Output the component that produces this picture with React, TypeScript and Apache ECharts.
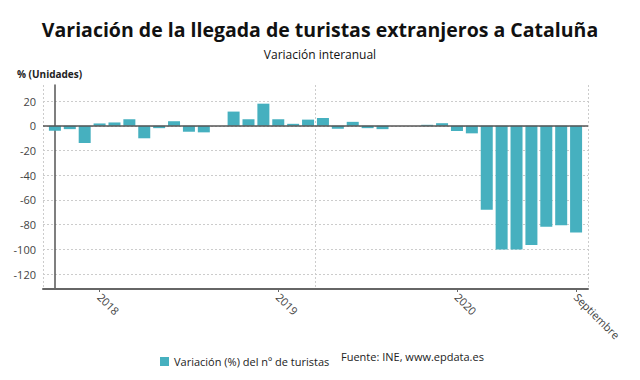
import React, { useEffect, useRef } from "react";
import * as echarts from "echarts";

const months: string[] = [
  "2017-10", "2017-11", "2017-12",
  "2018-01", "2018-02", "2018-03", "2018-04", "2018-05", "2018-06", "2018-07", "2018-08", "2018-09", "2018-10", "2018-11", "2018-12",
  "2019-01", "2019-02", "2019-03", "2019-04", "2019-05", "2019-06", "2019-07", "2019-08", "2019-09", "2019-10", "2019-11", "2019-12",
  "2020-01", "2020-02", "2020-03", "2020-04", "2020-05", "2020-06", "2020-07", "2020-08", "2020-09",
];
const values: number[] = [
  -4, -2.7, -13.9,
  1.9, 2.7, 5.3, -10.1, -1.9, 3.7, -4.8, -5.3, 0, 11.5, 5.3, 17.9,
  5.3, 1.6, 5, 6.3, -2.4, 3.2, -1.9, -2.7, 0, 0, 0.8, 2.1,
  -4.2, -6.1, -68, -100, -100, -96.5, -81.7, -80.4, -86.3,
];
const tickLabels: Record<string, string> = {
  "2018-01": "2018",
  "2019-01": "2019",
  "2020-01": "2020",
  "2020-09": "Septiembre",
};
const seriesName = "Variación (%) del nº de turistas";

export default function App() {
  const ref = useRef<HTMLDivElement>(null);
  useEffect(() => {
    if (!ref.current) return;
    document.body.style.margin = "0";
    const chart = echarts.init(ref.current, null, { renderer: "svg" });
    const labelIdx = months.map((m, i) => (tickLabels[m] ? i : -1)).filter((i) => i >= 0);
    const font = "'Open Sans', sans-serif";
    chart.setOption({
      animation: false,
      textStyle: { fontFamily: font },
      title: [
        {
          text: "Variación de la llegada de turistas extranjeros a Cataluña",
          left: "center",
          top: 14,
          textStyle: { fontFamily: font, fontWeight: "bold", fontSize: 19.5, color: "#111" },
        },
        {
          text: "Variación interanual",
          left: "center",
          top: 43,
          textStyle: { fontFamily: font, fontWeight: "normal", fontSize: 12, color: "#111" },
        },
        {
          text: "% (Unidades)",
          left: 12,
          top: 64,
          textStyle: { fontFamily: font, fontWeight: "bold", fontSize: 10, color: "#222" },
        },
      ],
      legend: {
        left: 155,
        top: 351,
        itemWidth: 9,
        itemHeight: 9,
        itemGap: 6,
        icon: "rect",
        textStyle: { fontFamily: font, fontSize: 11, color: "#222" },
        data: [seriesName],
      },
      graphic: [
        {
          type: "text",
          left: 341,
          top: 351,
          style: { text: "Fuente: INE, www.epdata.es", fontFamily: font, fontSize: 11, fill: "#222" },
        },
      ],
      grid: { left: 43, right: 52, top: 85, bottom: 91 },
      xAxis: [
        {
          type: "value",
          min: -0.8,
          max: 35.8,
          axisLine: { show: true, onZero: false, lineStyle: { color: "#666", width: 2 } },
          axisTick: { show: true, customValues: labelIdx, length: 3, lineStyle: { color: "#666" } },
          axisLabel: {
            customValues: labelIdx,
            rotate: -45,
            fontSize: 11,
            color: "#444",
            fontFamily: font,
            margin: 6,
            formatter: (v: number) => tickLabels[months[Math.round(v)]] || "",
          },
          splitLine: { show: false },
        },
        {
          type: "value",
          min: 0,
          max: 2,
          interval: 1,
          position: "bottom",
          axisLine: { show: false },
          axisTick: { show: false },
          axisLabel: { show: false },
          splitLine: { show: true, lineStyle: { color: "#ccc", type: [2, 2], width: 1 } },
        },
      ],
      yAxis: {
        type: "value",
        min: -132,
        max: 33,
        minInterval: 20,
        maxInterval: 20,
        axisLine: { show: true, lineStyle: { color: "#555", width: 1.5 } },
        axisTick: { show: false },
        axisLabel: { showMinLabel: false, showMaxLabel: false, fontSize: 11, color: "#444", fontFamily: font, margin: 7 },
        splitLine: { show: true, showMinLine: false, showMaxLine: false, lineStyle: { color: "#ccc", type: [2, 2], width: 1 } },
      },
      series: [
        {
          name: seriesName,
          type: "bar",
          xAxisIndex: 0,
          barWidth: 12,
          itemStyle: { color: "#46b0bf" },
          data: values.map((v, i) => [i, v]),
          markLine: {
            silent: true,
            symbol: "none",
            label: { show: false },
            lineStyle: { color: "#555", type: "solid", width: 1.5 },
            data: [{ yAxis: 0 }],
          },
        },
      ],
    });
    return () => chart.dispose();
  }, []);
  return <div ref={ref} style={{ width: 640, height: 380 }} />;
}
